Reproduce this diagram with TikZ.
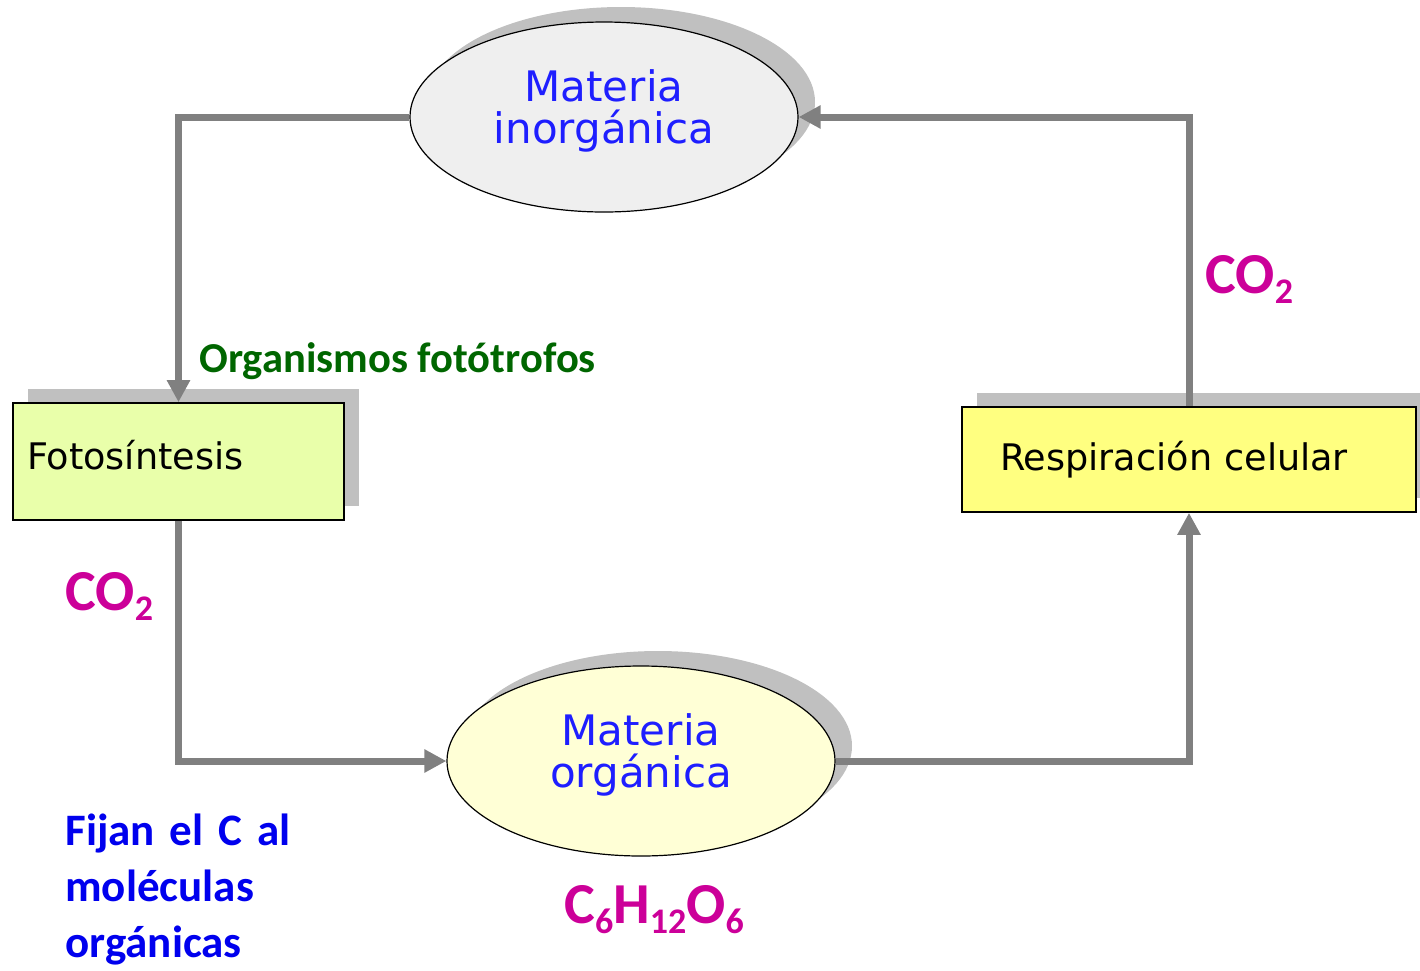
\documentclass[tikz,border=0pt]{standalone}
\usepackage{fontspec}
\usepackage{xcolor}
\usetikzlibrary{shapes.geometric,shadows,arrows.meta}
\newfontfamily\boxfont{DejaVu Sans}
\newfontfamily\labelfont{Carlito}
\definecolor{shadowgray}{HTML}{C0C0C0}
\definecolor{flowgray}{HTML}{808080}
\definecolor{inorggray}{HTML}{EFEFEF}
\definecolor{orgyellow}{HTML}{FFFFD6}
\definecolor{fotogreen}{HTML}{E9FFAA}
\definecolor{respyellow}{HTML}{FFFF80}
\definecolor{matblue}{HTML}{1E1EFF}
\definecolor{fijanblue}{HTML}{0000EE}
\definecolor{formulamagenta}{HTML}{CC0099}
\definecolor{fototrofgreen}{HTML}{006600}
\newcommand\chemsub[1]{\raisebox{-5pt}{\fontsize{18}{18}\selectfont #1}}
\tikzset{
	materia/.style={ellipse,draw=black,line width=0.6pt,minimum width=194pt,minimum height=95pt,inner sep=0pt,text depth=10pt,align=center,text=matblue,font=\boxfont\fontsize{21}{21}\selectfont,drop shadow={shadow xshift=8.5pt,shadow yshift=7.5pt,fill=shadowgray,opacity=1}},%
	proceso/.style={rectangle,draw=black,line width=0.8pt,align=left,font=\boxfont\fontsize{18.3}{18.3}\selectfont,drop shadow={shadow xshift=7.5pt,shadow yshift=7pt,fill=shadowgray,opacity=1}},%
	flow/.style={draw=flowgray,line width=3.5pt,-{Triangle[length=11pt,width=11pt]}},%
	formula/.style={anchor=base west,inner sep=0pt,text=formulamagenta,font=\labelfont\bfseries\fontsize{29}{29}\selectfont},%
	greennote/.style={anchor=base west,inner sep=0pt,text=fototrofgreen,font=\labelfont\bfseries\fontsize{21.3}{21.3}\selectfont},%
	bluenote/.style={anchor=base west,inner sep=0pt,text=fijanblue,text width=300pt,align=left,font=\labelfont\bfseries\fontsize{22.5}{28}\selectfont},%
}

\begin{document}
\begin{tikzpicture}[x=0.5pt,y=-0.5pt]
	\useasboundingbox (0,0) rectangle (1420,970);
	% Materia {{{
	\node[materia,fill=inorggray] (inorg) at (604,117) {Materia\\inorgánica};
	\node[materia,fill=orgyellow] (org) at (641,761) {Materia\\orgánica};
	% }}}
	% Procesos {{{
	\node[proceso,fill=fotogreen,minimum height=58.5pt,text width=151.5pt,inner xsep=7pt,text depth=7pt] (foto) at (178.5,461.5) {Fotosíntesis};
	\node[proceso,fill=respyellow,minimum height=52.5pt,text width=189pt,inner xsep=19pt] (resp) at (1189,459.5) {Respiración celular};
	% }}}
	% Ciclo {{{
	\draw[flow] (inorg.west) -| (foto.north);
	\draw[flow] (foto.south) |- (org.west);
	\draw[flow] (org.east) -| (resp.south);
	\draw[flow] (resp.north) |- (inorg.east);
	% }}}
	% Textos {{{
	\node[greennote] (fototrofos) at (199,372) {Organismos fotótrofos};
	\node[formula] (co2foto) at (65,610) {CO\chemsub{2}};
	\node[formula] (co2resp) at (1205,293) {CO\chemsub{2}};
	\node[formula] (glucosa) at (564,923) {C\chemsub{6}H\chemsub{12}O\chemsub{6}};
	\node[bluenote] (fijan) at (65,845) {Fijan el C al\\moléculas\\orgánicas};
	% }}}
\end{tikzpicture}
\end{document}
